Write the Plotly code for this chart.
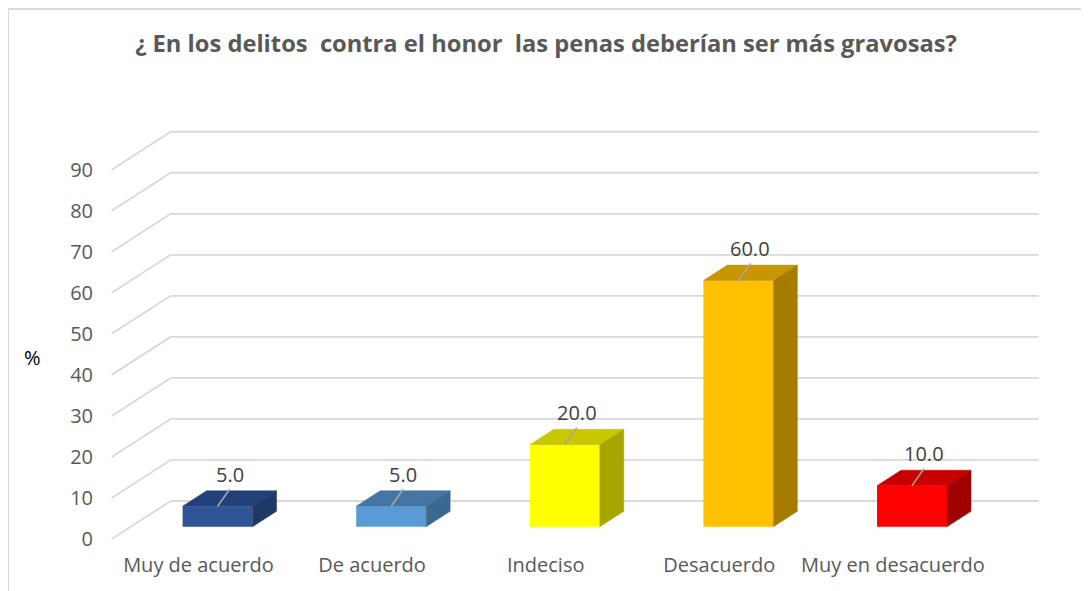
import plotly.graph_objects as go

# ---------------- data ----------------
categories = ["Muy de acuerdo", "De acuerdo", "Indeciso", "Desacuerdo", "Muy en desacuerdo"]
values = [5.0, 5.0, 20.0, 60.0, 10.0]
y_ticks = [0, 10, 20, 30, 40, 50, 60, 70, 80, 90]
front_colors = ["#2F5597", "#5B9BD5", "#FFFF00", "#FFC000", "#FF0000"]
top_colors = ["#22407A", "#4475A3", "#C8C800", "#C89600", "#C80000"]
side_colors = ["#1F3864", "#3B6891", "#A6A600", "#A67C00", "#A00000"]
title_text = "¿ En los delitos  contra el honor  las penas deberían ser más gravosas?"

# ---------------- geometry (page pixels, minus the 8px body margin) ----------------
OFF = 8
W, H = 1089 - OFF, 591 - OFF
L, R, T, B = 97 - OFF, 1060 - OFF, 100 - OFF, 545 - OFF   # plot area
sx, sy = 173.6, 4.103                     # px per category, px per unit
ox, oy = 111.7 - OFF, 539.0 - OFF         # front-left floor corner
kx, ky = 59.0 / sx, 38.0 / sy             # full depth offset in data units
z1, z2 = 0.324, 0.73                      # bar depth extent (0=front, 1=back)
bw = 70.0 / sx                            # bar width in category units
ncat = len(categories)

xr = [(L - ox) / sx, (R - ox) / sx]
yr = [(oy - B) / sy, (oy - T) / sy]

grid_col = "#D9D9D9"
txt_col = "#595959"


def px_x(p):
    return (p - OFF - L) / (R - L)


def px_y(p):
    return (B - (p - OFF)) / (B - T)


fig = go.Figure()

# front faces of bars (bar layer first)
fig.add_trace(go.Bar(
    x=[i + 0.5 + kx * z1 for i in range(ncat)],
    y=values,
    base=[ky * z1] * ncat,
    width=bw,
    marker=dict(color=front_colors, line=dict(width=0)),
    hoverinfo="skip", showlegend=False,
))

# top and side faces of bars
for i, v in enumerate(values):
    c = i + 0.5
    xl, xrt = c - bw / 2, c + bw / 2
    tx = [xl + kx * z1, xrt + kx * z1, xrt + kx * z2, xl + kx * z2, xl + kx * z1]
    ty = [v + ky * z1, v + ky * z1, v + ky * z2, v + ky * z2, v + ky * z1]
    fig.add_trace(go.Scatter(x=tx, y=ty, mode="lines", fill="toself", fillcolor=top_colors[i],
                             line=dict(color=top_colors[i], width=0.5),
                             hoverinfo="skip", showlegend=False))
    sxs = [xrt + kx * z1, xrt + kx * z2, xrt + kx * z2, xrt + kx * z1, xrt + kx * z1]
    sys_ = [ky * z1, ky * z2, v + ky * z2, v + ky * z1, ky * z1]
    fig.add_trace(go.Scatter(x=sxs, y=sys_, mode="lines", fill="toself", fillcolor=side_colors[i],
                             line=dict(color=side_colors[i], width=0.5),
                             hoverinfo="skip", showlegend=False))

# leader lines for data labels
lx, ly = [], []
for i, v in enumerate(values):
    x0 = i + 0.5 + kx * z1
    y0 = v + ky * z1
    lx += [x0, x0 + 12 / sx, None]
    ly += [y0, y0 + 17 / sy, None]
fig.add_trace(go.Scatter(x=lx, y=ly, mode="lines", line=dict(color="#A6A6A6", width=1.6),
                         hoverinfo="skip", showlegend=False))

# gridlines (below traces): front diagonal + back wall line
shapes = []
for v in y_ticks:
    shapes.append(dict(type="line", xref="x", yref="y", x0=0, y0=v, x1=kx, y1=v + ky,
                       line=dict(color=grid_col, width=1.8), layer="below"))
    shapes.append(dict(type="line", xref="x", yref="y", x0=kx, y0=v + ky, x1=ncat + kx, y1=v + ky,
                       line=dict(color=grid_col, width=1.8), layer="below"))

# chart border
shapes.append(dict(type="rect", xref="paper", yref="paper",
                   x0=px_x(8), x1=px_x(1110), y0=px_y(620), y1=px_y(9),
                   line=dict(color="#D9D9D9", width=2), fillcolor="rgba(0,0,0,0)", layer="below"))

# data labels
annotations = []
for i, v in enumerate(values):
    annotations.append(dict(
        x=i + 0.5 + kx * z1, y=v + ky * z1, xref="x", yref="y",
        text=f"{v:.1f}", showarrow=False, xshift=12, yshift=32,
        font=dict(family="Open Sans", size=20, color="#404040"),
        xanchor="center", yanchor="middle",
    ))

# % axis label
annotations.append(dict(
    x=px_x(32), y=px_y(357), xref="paper", yref="paper", text="%", showarrow=False,
    font=dict(family="Open Sans", size=20, color="#000000"), xanchor="center", yanchor="middle",
))

fig.update_layout(
    width=W, height=H, autosize=False,
    margin=dict(l=L, r=W - R, t=T, b=H - B, pad=0),
    paper_bgcolor="white", plot_bgcolor="white",
    barmode="overlay",
    title=dict(text=title_text.replace("  ", " \u00a0"), x=(546 - OFF) / W, xref="container",
               y=1 - (44 - OFF) / H, yref="container", xanchor="center", yanchor="middle",
               font=dict(family="Open Sans", size=23.7, color=txt_col, weight="bold")),
    xaxis=dict(range=xr, showgrid=False, zeroline=False, showline=False,
               tickvals=[i + 0.5 for i in range(ncat)], ticktext=categories, ticks="",
               tickfont=dict(family="Open Sans", size=20, color=txt_col),
               ticklabelstandoff=6, fixedrange=True),
    yaxis=dict(range=yr, showgrid=False, zeroline=False, showline=False,
               tickvals=y_ticks, ticktext=[str(t) for t in y_ticks], ticks="",
               tickfont=dict(family="Open Sans", size=20, color=txt_col),
               ticklabelstandoff=3, fixedrange=True),
    annotations=annotations,
    shapes=shapes,
)

fig.write_html("out.html")
